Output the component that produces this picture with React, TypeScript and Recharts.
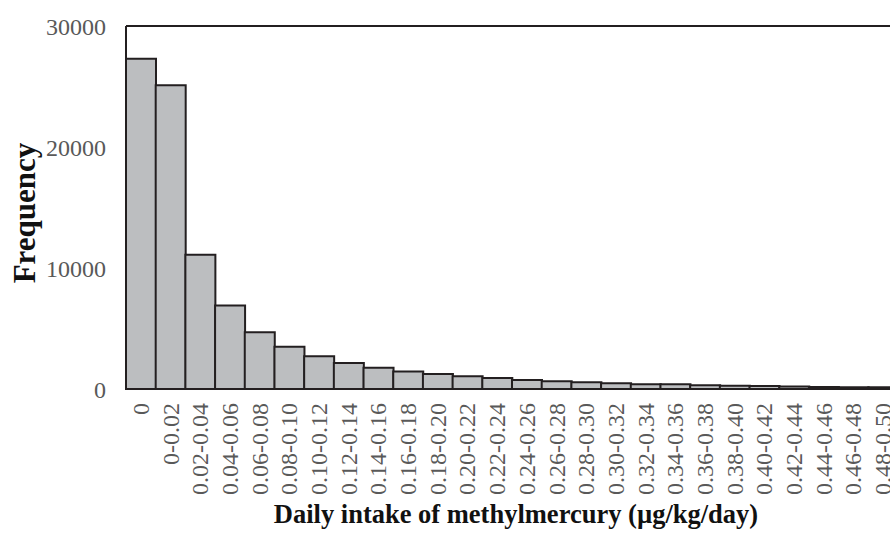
import React from "react";
import { BarChart, Bar, XAxis, YAxis, ReferenceLine } from "recharts";

const categories = [
  "0", "0-0.02", "0.02-0.04", "0.04-0.06", "0.06-0.08", "0.08-0.10", "0.10-0.12",
  "0.12-0.14", "0.14-0.16", "0.16-0.18", "0.18-0.20", "0.20-0.22", "0.22-0.24",
  "0.24-0.26", "0.26-0.28", "0.28-0.30", "0.30-0.32", "0.32-0.34", "0.34-0.36",
  "0.36-0.38", "0.38-0.40", "0.40-0.42", "0.42-0.44", "0.44-0.46", "0.46-0.48", "0.48-0.50",
];
const frequencies = [
  27300, 25100, 11100, 6900, 4700, 3500, 2700, 2150, 1750, 1450, 1250, 1050, 900,
  750, 650, 550, 470, 400, 390, 320, 260, 250, 200, 160, 150, 140,
];
const yTicks = [0, 10000, 20000, 30000];

const data = categories.map((c, i) => ({ name: c, value: frequencies[i] }));

const SERIF = "'Liberation Serif', 'Times New Roman', serif";

const XTick = (props: any) => {
  const { x, y, payload } = props;
  const ty = y + 6;
  return (
    <text
      x={x}
      y={ty}
      transform={`rotate(-90 ${x} ${ty})`}
      textAnchor="end"
      dominantBaseline="central"
      fill="#595959"
      fontSize={24}
      fontFamily={SERIF}
    >
      {payload.value}
    </text>
  );
};

export default function App() {
  return (
    <div style={{ position: "absolute", left: 0, top: 0, width: 890, height: 534, overflow: "hidden", background: "#fff" }}>
      <BarChart
        width={898}
        height={534}
        data={data}
        margin={{ top: 26, right: 0, left: 0, bottom: 0 }}
        barCategoryGap={0}
      >
        <XAxis
          dataKey="name"
          interval={0}
          height={145}
          tickLine={false}
          axisLine={{ stroke: "#231f20", strokeWidth: 2 }}
          tick={<XTick />}
          label={{
            content: () => (
              <text x={516} y={523} textAnchor="middle" fontSize={26.5} fontWeight="bold" fontFamily={SERIF} fill="#111">
                Daily intake of methylmercury (µg/kg/day)
              </text>
            ),
          }}
        />
        <YAxis
          width={126}
          domain={[0, 30000]}
          ticks={yTicks}
          interval={0}
          tickLine={false}
          tickMargin={14}
          axisLine={{ stroke: "#231f20", strokeWidth: 2 }}
          tick={{ fill: "#595959", fontSize: 24, fontFamily: SERIF }}
          label={{
            content: () => (
              <text
                x={24}
                y={213}
                transform="rotate(-90 24 213)"
                textAnchor="middle"
                dominantBaseline="central"
                fontSize={31}
                fontWeight="bold"
                fontFamily={SERIF}
                fill="#111"
              >
                Frequency
              </text>
            ),
          }}
        />
        <ReferenceLine y={30000} stroke="#231f20" strokeWidth={2} />
        <Bar dataKey="value" fill="#bcbec0" stroke="#231f20" strokeWidth={2} isAnimationActive={false} />
      </BarChart>
    </div>
  );
}
